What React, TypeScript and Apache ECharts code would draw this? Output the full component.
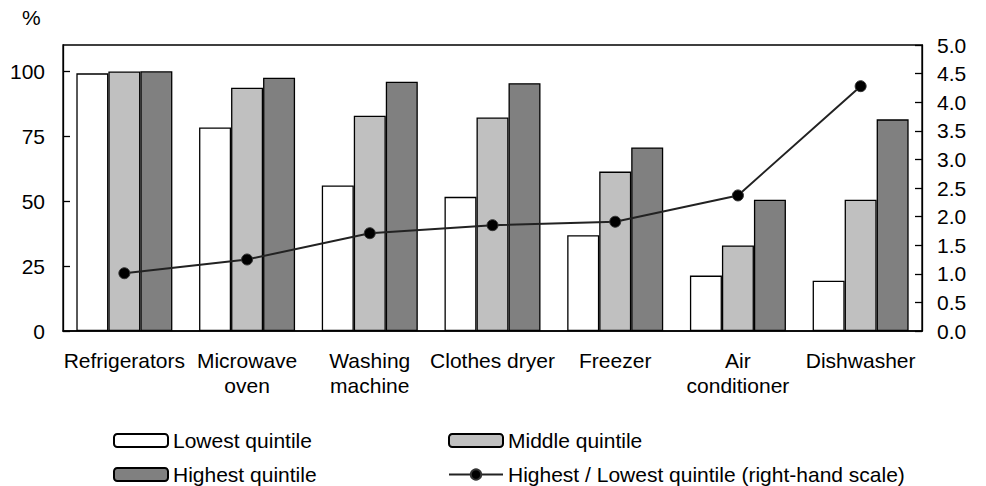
import React, { useEffect, useRef } from "react";
import * as echarts from "echarts";

const categories = [
  "Refrigerators",
  "Microwave\noven",
  "Washing\nmachine",
  "Clothes dryer",
  "Freezer",
  "Air\nconditioner",
  "Dishwasher",
];
const lowest = [99.1, 78.3, 56.0, 51.6, 36.8, 21.3, 19.3];
const middle = [99.8, 93.6, 82.8, 82.1, 61.3, 32.9, 50.5];
const highest = [99.9, 97.4, 95.9, 95.3, 70.6, 50.5, 81.4];
const ratio = [1.01, 1.25, 1.71, 1.85, 1.91, 2.37, 4.28];

const seriesNames = [
  "Lowest quintile",
  "Middle quintile",
  "Highest quintile",
  "Highest / Lowest quintile (right-hand scale)",
];

const FONT = "'Liberation Sans', Arial, sans-serif";
const FS = 21;

export default function App() {
  const ref = useRef<HTMLDivElement>(null);
  useEffect(() => {
    if (!ref.current) return;
    const chart = echarts.init(ref.current, undefined, { renderer: "svg" });
    const barStyle = (color: string) => ({
      color,
      borderColor: "#000",
      borderWidth: 1.3,
    });
    const legendBase = {
      padding: 0,
      itemWidth: 54,
      itemHeight: 13,
      textStyle: { fontFamily: FONT, fontSize: FS, color: "#000", lineHeight: 20 },
      selectedMode: false,
    };
    chart.setOption({
      animation: false,
      textStyle: { fontFamily: FONT },
      grid: {
        left: 63,
        right: 64,
        top: 45,
        bottom: 155,
        show: true,
        borderColor: "#000",
        borderWidth: 1.3,
        containLabel: false,
      },
      graphic: [
        {
          type: "text",
          left: 22,
          top: 7,
          style: { text: "%", fontFamily: FONT, fontSize: FS, fill: "#000" },
        },
      ],
      legend: [
        { ...legendBase, data: [seriesNames[0]], left: 113, top: 430 },
        { ...legendBase, data: [seriesNames[1]], left: 448, top: 430 },
        { ...legendBase, data: [seriesNames[2]], left: 113, top: 464 },
        { ...legendBase, data: [seriesNames[3]], left: 448, top: 464 },
      ],
      xAxis: {
        type: "category",
        data: categories,
        axisLine: { lineStyle: { color: "#000", width: 1.5 } },
        axisTick: { show: false },
        axisLabel: {
          interval: 0,
          color: "#000",
          fontFamily: FONT,
          fontSize: FS,
          lineHeight: 25,
          margin: 17,
        },
      },
      yAxis: [
        {
          type: "value",
          min: 0,
          max: 110,
          interval: 25,
          position: "left",
          axisLine: { show: true, lineStyle: { color: "#000", width: 1.3 } },
          axisTick: { show: true, inside: true, length: 7, lineStyle: { color: "#000", width: 1.3 } },
          axisLabel: {
            color: "#000",
            fontFamily: FONT,
            fontSize: FS,
            margin: 18,
            showMaxLabel: false,
          },
          splitLine: { show: false },
        },
        {
          type: "value",
          min: 0,
          max: 5,
          interval: 0.5,
          position: "right",
          axisLine: { show: true, lineStyle: { color: "#000", width: 1.3 } },
          axisTick: { show: true, inside: true, length: 7, lineStyle: { color: "#000", width: 1.3 } },
          axisLabel: {
            color: "#000",
            fontFamily: FONT,
            fontSize: FS,
            margin: 15,
            formatter: (v: number) => v.toFixed(1),
          },
          splitLine: { show: false },
        },
      ],
      series: [
        {
          name: seriesNames[0],
          type: "bar",
          data: lowest,
          barWidth: 32,
          barGap: "0%",
          itemStyle: barStyle("#ffffff"),
        },
        {
          name: seriesNames[1],
          type: "bar",
          data: middle,
          barWidth: 32,
          barGap: "0%",
          itemStyle: barStyle("#c0c0c0"),
        },
        {
          name: seriesNames[2],
          type: "bar",
          data: highest,
          barWidth: 32,
          barGap: "0%",
          itemStyle: barStyle("#808080"),
        },
        {
          name: seriesNames[3],
          type: "line",
          yAxisIndex: 1,
          data: ratio,
          symbol: "circle",
          symbolSize: 11,
          lineStyle: { color: "#222", width: 2 },
          itemStyle: { color: "#000", borderColor: "#333", borderWidth: 1 },
          z: 5,
        },
      ],
    });
    return () => chart.dispose();
  }, []);
  return (
    <div
      ref={ref}
      style={{ position: "fixed", left: 0, top: 0, width: 986, height: 486, background: "#fff" }}
    />
  );
}
